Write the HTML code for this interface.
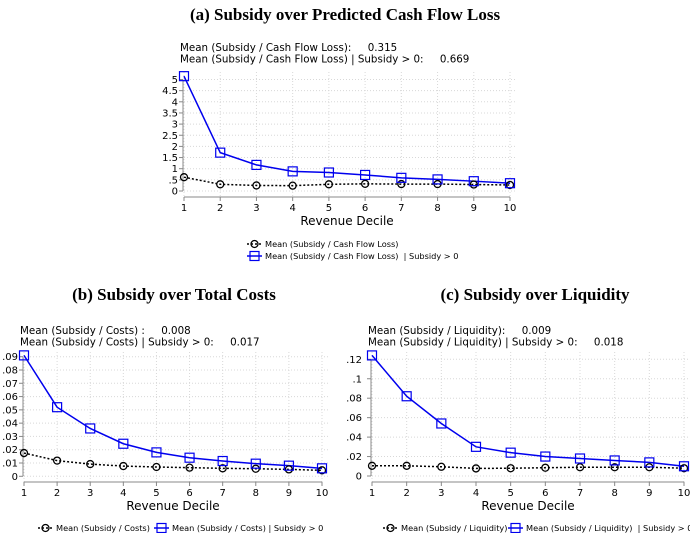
<!DOCTYPE html>
<html><head><meta charset="utf-8"><style>
body{margin:0;background:#fff;width:690px;height:533px;overflow:hidden}
svg text{font-family:"DejaVu Sans","Liberation Sans",sans-serif}
.ttl{font-family:"Liberation Serif",serif !important;font-weight:bold;font-size:17px}
</style></head><body>
<svg id="c" width="690" height="533" viewBox="0 0 690 533">
<text class="ttl" x="345" y="20" text-anchor="middle">(a)  Subsidy over Predicted Cash Flow Loss</text>
<text class="ttl" x="174" y="300" text-anchor="middle">(b)  Subsidy over Total Costs</text>
<text class="ttl" x="535" y="300" text-anchor="middle">(c)  Subsidy over Liquidity</text>
</svg>
<script>
const deciles=[1,2,3,4,5,6,7,8,9,10];
const aAll=[0.62,0.30,0.25,0.24,0.30,0.32,0.31,0.31,0.29,0.27];
const aPos=[5.15,1.72,1.17,0.88,0.83,0.72,0.59,0.52,0.44,0.35];
const aTicks=[0,0.5,1,1.5,2,2.5,3,3.5,4,4.5,5];
const aTickLabels=["0",".5","1","1.5","2","2.5","3","3.5","4","4.5","5"];
const bAll=[0.0175,0.0118,0.0092,0.0077,0.0070,0.0065,0.0060,0.0057,0.0052,0.0045];
const bPos=[0.091,0.052,0.036,0.0245,0.018,0.014,0.0115,0.0095,0.008,0.006];
const bTicks=[0,0.01,0.02,0.03,0.04,0.05,0.06,0.07,0.08,0.09];
const bTickLabels=["0",".01",".02",".03",".04",".05",".06",".07",".08",".09"];
const cAll=[0.0105,0.0105,0.0095,0.0078,0.0080,0.0085,0.0090,0.0090,0.0090,0.0080];
const cPos=[0.124,0.082,0.054,0.030,0.024,0.020,0.018,0.016,0.014,0.010];
const cTicks=[0,0.02,0.04,0.06,0.08,0.10,0.12];
const cTickLabels=["0",".02",".04",".06",".08",".1",".12"];
const svg=document.getElementById('c');
const NS='http://www.w3.org/2000/svg';
function mk(t,a,p){const e=document.createElementNS(NS,t);for(const k in a)e.setAttribute(k,a[k]);(p||svg).appendChild(e);return e;}
function txt(x,y,s,anchor,size,p){const e=mk('text',{x:x,y:y,'text-anchor':anchor,'font-size':size,fill:'#000'},p);e.textContent=s;return e;}
function panel(id,cfg){
  const g=mk('g',{});
  
  
  const X=v=>cfg.x1+(v-1)*(cfg.x10-cfg.x1)/9;
  const Y=v=>cfg.y0-(v/cfg.ymax)*(cfg.y0-cfg.ytop);
  cfg.ticks.forEach((t,i)=>{
    const l=mk('line',{x1:cfg.x1,x2:cfg.xr,y1:Y(t),y2:Y(t),stroke:'#d8d8d8','stroke-dasharray':'1,2','stroke-width':1},g);
    
    
    const tl=txt(cfg.lx,Y(t)+3.5,cfg.labels[i],'end',10,g);
    
    
    mk('line',{x1:cfg.x1-5,x2:cfg.x1-1,y1:Y(t),y2:Y(t),stroke:'#888'},g);
  });
  deciles.forEach(d=>{
    const l=mk('line',{x1:X(d),x2:X(d),y1:cfg.gtop,y2:cfg.ax,stroke:'#d8d8d8','stroke-dasharray':'1,2'},g);
    
    
    mk('line',{x1:X(d),x2:X(d),y1:cfg.ax,y2:cfg.ax+4,stroke:'#888'},g);
    const tl=txt(X(d),cfg.ax+14,String(d),'middle',10,g);
    
    
  });
  mk('line',{x1:cfg.x1-1,x2:cfg.x1-1,y1:Y(cfg.ticks[cfg.ticks.length-1]),y2:Y(0),stroke:'#888'},g);
  mk('line',{x1:cfg.x1,x2:cfg.x10,y1:cfg.ax,y2:cfg.ax,stroke:'#888'},g);
  const xt=txt((cfg.x1+cfg.x10)/2,cfg.ax+28,'Revenue Decile','middle',12,g);
  
  
  const s1=txt(cfg.tx,cfg.ty,cfg.t1,'start',10.3,g);
  const s2=txt(cfg.tx,cfg.ty+11.5,cfg.t2,'start',10.3,g);
  s1.style.whiteSpace='pre';s2.style.whiteSpace='pre';
  const pa=mk('polyline',{points:cfg.all.map((v,i)=>X(deciles[i])+','+Y(v)).join(' '),fill:'none',stroke:'#000','stroke-width':1.5,'stroke-dasharray':'2,2'},g);
  
  
  const pp=mk('polyline',{points:cfg.pos.map((v,i)=>X(deciles[i])+','+Y(v)).join(' '),fill:'none',stroke:'#0000ee','stroke-width':1.5},g);
  
  
  cfg.all.forEach((v,i)=>{const c=mk('circle',{cx:X(deciles[i]),cy:Y(v),r:3.5,fill:'none',stroke:'#000','stroke-width':1.3},g);
    
    });
  cfg.pos.forEach((v,i)=>{const r=mk('rect',{x:X(deciles[i])-4.5,y:Y(v)-4.5,width:9,height:9,fill:'none',stroke:'#0000ee','stroke-width':1.2},g);
    
    });
  cfg.leg.forEach((L,i)=>{
    const lg=mk('g',{},g);
    
    
    if(i===0){mk('line',{x1:L.x,x2:L.x+15,y1:L.y,y2:L.y,stroke:'#000','stroke-width':1.5,'stroke-dasharray':'2,2'},lg);mk('circle',{cx:L.x+7.5,cy:L.y,r:3.5,fill:'none',stroke:'#000','stroke-width':1.3},lg);}
    else{mk('line',{x1:L.x,x2:L.x+15,y1:L.y,y2:L.y,stroke:'#0000ee','stroke-width':1.5},lg);mk('rect',{x:L.x+3,y:L.y-4.5,width:9,height:9,fill:'none',stroke:'#0000ee','stroke-width':1.2},lg);}
    const t=txt(L.x+18,L.y+3,L.s,'start',8.2,lg);t.style.whiteSpace='pre';
  });
}
panel('a',{x1:184,x10:510,xr:516,y0:191,ytop:79.5,ymax:5,gtop:72,ax:197,lx:178,ticks:aTicks,labels:aTickLabels,all:aAll,pos:aPos,
  tx:180,ty:51,t1:'Mean (Subsidy / Cash Flow Loss):     0.315',t2:'Mean (Subsidy / Cash Flow Loss) | Subsidy > 0:     0.669',
  leg:[{x:247,y:244,s:'Mean (Subsidy / Cash Flow Loss)'},{x:247,y:256,s:'Mean (Subsidy / Cash Flow Loss)  | Subsidy > 0'}]});
panel('b',{x1:24,x10:322,xr:328,y0:476.3,ytop:356.7,ymax:0.09,gtop:352,ax:482,lx:18,ticks:bTicks,labels:bTickLabels,all:bAll,pos:bPos,
  tx:20,ty:334,t1:'Mean (Subsidy / Costs) :     0.008',t2:'Mean (Subsidy / Costs) | Subsidy > 0:     0.017',
  leg:[{x:38,y:528,s:'Mean (Subsidy / Costs)'},{x:154,y:528,s:'Mean (Subsidy / Costs) | Subsidy > 0'}]});
panel('c',{x1:372,x10:684,xr:689,y0:476,ytop:359.3,ymax:0.12,gtop:352,ax:482,lx:362,ticks:cTicks,labels:cTickLabels,all:cAll,pos:cPos,
  tx:368,ty:334,t1:'Mean (Subsidy / Liquidity):     0.009',t2:'Mean (Subsidy / Liquidity) | Subsidy > 0:     0.018',
  leg:[{x:383,y:528,s:'Mean (Subsidy / Liquidity)'},{x:508,y:528,s:'Mean (Subsidy / Liquidity)  | Subsidy > 0'}]});
</script>
</body></html>
